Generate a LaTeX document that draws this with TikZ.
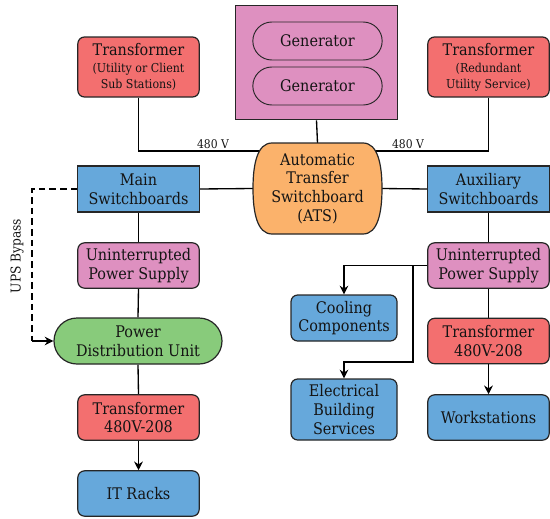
\documentclass[tikz,border=0pt]{standalone}
\usepackage{fontspec}
\setmainfont{DejaVu Serif Condensed}
\usetikzlibrary{arrows.meta,shapes.misc}
\pgfdeclarelayer{bg}
\pgfsetlayers{bg,main}
\definecolor{cred}{HTML}{F36F6F}
\definecolor{cblue}{HTML}{66A8DB}
\definecolor{cpink}{HTML}{DE90C0}
\definecolor{cgreen}{HTML}{88CB7B}
\definecolor{corange}{HTML}{FBB26B}
\definecolor{ctext}{HTML}{141414}
\begin{document}
\begin{tikzpicture}[x=0.75pt,y=-0.75pt,
  base/.style={draw=black!85,line width=0.9pt,align=center,text=ctext,inner sep=0pt,font=\fontsize{12}{14}\selectfont},
  rbox/.style={base,rounded corners=5pt},
  sbox/.style={base},
  sub/.style={font=\fontsize{9.2}{10.5}\selectfont},
  small/.style={font=\fontsize{9}{10.5}\selectfont},
  conn/.style={line width=1pt,draw=black},
  arr/.style={conn,-{Stealth[length=6.5pt,width=6.5pt]}}]
\useasboundingbox (0,0) rectangle (550,518);
% transformers top
\node[rbox,fill=cred,minimum width=91pt,minimum height=45pt] (tl) at (138.5,67) {Transformer\\[-1pt]{\fontsize{9.2}{10}\selectfont (Utility or Client}\\[-2pt]{\fontsize{9.2}{10}\selectfont Sub Stations)}};
\node[rbox,fill=cred,minimum width=91pt,minimum height=45pt] (tr) at (488.5,67) {Transformer\\[-1pt]{\fontsize{9.2}{10}\selectfont (Redundant}\\[-2pt]{\fontsize{9.2}{10}\selectfont Utility Service)}};
% generator box
\node[sbox,fill=cpink,line width=0.8pt,minimum width=122pt,minimum height=86pt] (gbox) at (316.5,62.5) {};
\node[base,rounded rectangle,fill=cpink,line width=0.7pt,minimum width=97pt,minimum height=28.5pt] (g1) at (317.5,41) {Generator};
\node[base,rounded rectangle,fill=cpink,line width=0.7pt,minimum width=97pt,minimum height=28.5pt] (g2) at (317.5,86) {Generator};
% ATS
\coordinate (atsc) at (317.5,188.5);
\filldraw[fill=corange,draw=black!85,line width=0.9pt] (272,143) -- (363,143) .. controls (378,143) and (382,165) .. (382,188.5) .. controls (382,212) and (378,234) .. (363,234) -- (272,234) .. controls (257,234) and (253,212) .. (253,188.5) .. controls (253,165) and (257,143) .. (272,143) -- cycle;
\node[base,draw=none,minimum width=96pt,minimum height=68pt] (ats) at (atsc) {Automatic\\Transfer\\Switchboard\\(ATS)};
\coordinate (atsL) at (253,188.5);
\coordinate (atsR) at (382,188.5);
\coordinate (atsT) at (317.5,143);
\coordinate (atsTL) at (262,151);
\coordinate (atsTR) at (373,151);
% switchboards
\node[sbox,fill=cblue,minimum width=91pt,minimum height=34.5pt] (msb) at (138.5,189) {Main\\Switchboards};
\node[sbox,fill=cblue,minimum width=91pt,minimum height=34.5pt] (asb) at (488.5,189) {Auxiliary\\Switchboards};
% UPS
\node[rbox,fill=cpink,minimum width=91pt,minimum height=34pt] (upsl) at (138.5,265.5) {Uninterrupted\\Power Supply};
\node[rbox,fill=cpink,minimum width=91pt,minimum height=34pt] (upsr) at (488.5,265.5) {Uninterrupted\\Power Supply};
% PDU
\node[base,rounded rectangle,fill=cgreen,minimum width=126pt,minimum height=34.5pt] (pdu) at (138,341) {Power\\Distribution Unit};
% transformers lower
\node[rbox,fill=cred,minimum width=91pt,minimum height=34pt] (t2l) at (138.5,417.5) {Transformer\\480V-208};
\node[rbox,fill=cred,minimum width=91pt,minimum height=34pt] (t2r) at (488.5,341) {Transformer\\480V-208};
% end boxes
\node[rbox,fill=cblue,minimum width=91pt,minimum height=34pt] (it) at (138.5,493.5) {IT Racks};
\node[rbox,fill=cblue,minimum width=91pt,minimum height=34pt] (ws) at (488.5,417.5) {Workstations};
\node[rbox,fill=cblue,minimum width=79.5pt,minimum height=34.5pt] (cool) at (344,318) {Cooling\\Components};
\node[rbox,fill=cblue,minimum width=79.5pt,minimum height=45.75pt] (ebs) at (344,409.5) {Electrical\\Building\\Services};
% connectors
\begin{pgfonlayer}{bg}
\draw[conn] (tl.south) |- (atsTL);
\draw[conn] (tr.south) |- (atsTR);
\draw[conn] (gbox.south) -- (atsT);
\draw[conn] (msb.east) -- (atsL);
\draw[conn] (atsR) -- (asb.west);
\draw[conn] (msb.south) -- (upsl.north);
\draw[conn] (asb.south) -- (upsr.north);
\draw[conn] (upsl.south) -- (pdu.north);
\draw[conn] (pdu.south) -- (t2l.north);
\draw[conn] (upsr.south) -- (t2r.north);
\end{pgfonlayer}
\node[small,text=ctext,anchor=south,inner sep=1.5pt] (v1) at (213,151) {480 V};
\node[small,text=ctext,anchor=south,inner sep=1.5pt] (v2) at (408,151) {480 V};
\draw[arr] (t2l.south) -- (it.north);
\draw[arr] (t2r.south) -- (ws.north);
\coordinate (bp1) at (32,189);
\coordinate (bp2) at (32,341);
\draw[conn,dash pattern=on 5pt off 3pt] (msb.west) -- (bp1) -- (bp2);
\draw[arr] (bp2) -- (pdu.west);
\node[rotate=90,text=ctext,font=\fontsize{10.2}{12}\selectfont] (bplabel) at (17,256) {UPS Bypass};
\coordinate (sp) at (413,265.5);
\draw[arr] (upsr.west) -| (cool.north);
\coordinate (sp2) at (413,362);
\draw[arr] (sp) -- (sp2) -| (ebs.north);
\end{tikzpicture}
\end{document}
